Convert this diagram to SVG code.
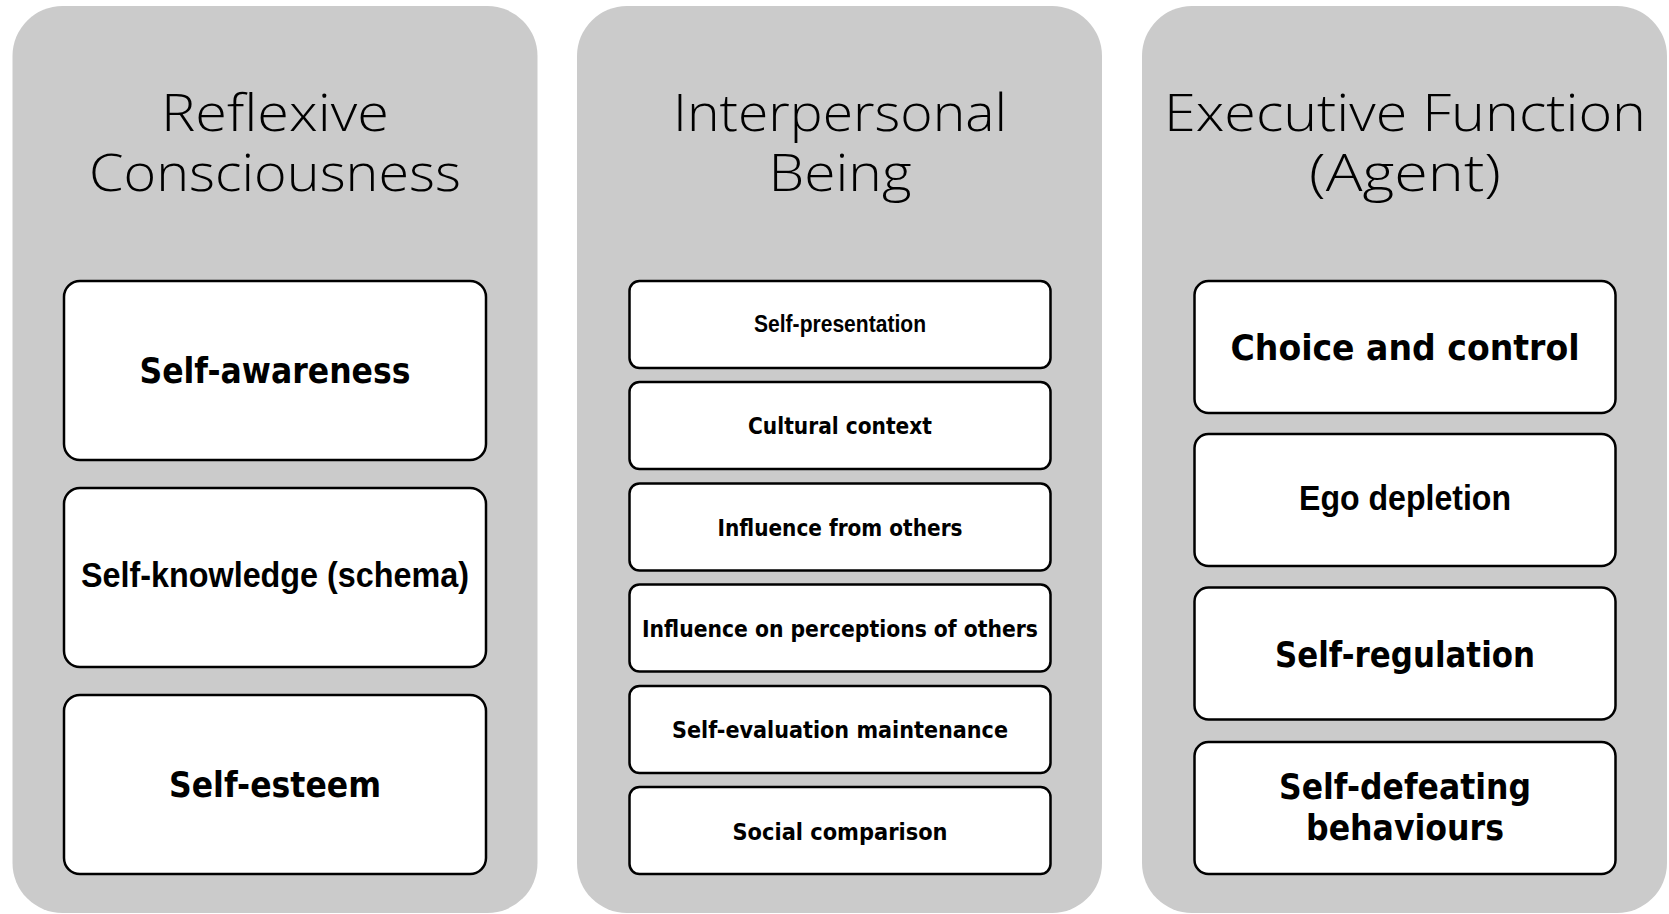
<svg xmlns="http://www.w3.org/2000/svg" width="1669" height="914" viewBox="0 0 1669 914">
  <style>
    .panel { fill: #cbcbcb; }
    .box { fill: #ffffff; stroke: #000000; stroke-width: 2.5; }
    .title { font-family: "Open Sans", "DejaVu Sans", sans-serif; font-weight: 300; font-size: 51px; fill: #000; text-anchor: middle; }
    .geo { font-family: "DejaVu Sans", "Liberation Sans", sans-serif; font-weight: bold; fill: #000; text-anchor: middle; }
    .cal { font-family: "Liberation Sans", "Open Sans", sans-serif; font-weight: bold; fill: #000; text-anchor: middle; }
    .big { font-size: 35px; }
    .small { font-size: 23px; }
  </style>

  <!-- Column 1: Reflexive Consciousness -->
  <g id="reflexive-consciousness">
    <rect class="panel" x="12.5" y="6" width="525" height="907" rx="50" ry="50"/>
    <text class="title" x="275" y="131" textLength="228" lengthAdjust="spacingAndGlyphs">Reflexive</text>
    <text class="title" x="275" y="191" textLength="372" lengthAdjust="spacingAndGlyphs">Consciousness</text>
  </g>
  <g id="self-awareness">
    <rect class="box" x="64" y="281" width="422" height="179" rx="16" ry="16"/>
    <text class="geo big" x="275" y="383" textLength="271" lengthAdjust="spacingAndGlyphs">Self-awareness</text>
  </g>
  <g id="self-knowledge">
    <rect class="box" x="64" y="488" width="422" height="179" rx="16" ry="16"/>
    <text class="cal big" x="275" y="587" textLength="388" lengthAdjust="spacingAndGlyphs">Self-knowledge (schema)</text>
  </g>
  <g id="self-esteem">
    <rect class="box" x="64" y="695" width="422" height="179" rx="16" ry="16"/>
    <text class="geo big" x="275" y="797" textLength="212" lengthAdjust="spacingAndGlyphs">Self-esteem</text>
  </g>

  <!-- Column 2: Interpersonal Being -->
  <g id="interpersonal-being">
    <rect class="panel" x="577" y="6" width="525" height="907" rx="50" ry="50"/>
    <text class="title" x="840" y="131" textLength="334" lengthAdjust="spacingAndGlyphs">Interpersonal</text>
    <text class="title" x="840" y="191" textLength="143" lengthAdjust="spacingAndGlyphs">Being</text>
  </g>
  <g id="self-presentation">
    <rect class="box" x="629.5" y="281" width="421" height="87" rx="10" ry="10"/>
    <text class="cal small" x="840" y="332" textLength="172" lengthAdjust="spacingAndGlyphs">Self-presentation</text>
  </g>
  <g id="cultural-context">
    <rect class="box" x="629.5" y="382" width="421" height="87" rx="10" ry="10"/>
    <text class="geo small" x="840" y="434" textLength="184" lengthAdjust="spacingAndGlyphs">Cultural context</text>
  </g>
  <g id="influence-from-others">
    <rect class="box" x="629.5" y="483.5" width="421" height="87" rx="10" ry="10"/>
    <text class="geo small" x="840" y="535.5" textLength="245" lengthAdjust="spacingAndGlyphs">Influence from others</text>
  </g>
  <g id="influence-on-perceptions">
    <rect class="box" x="629.5" y="584.5" width="421" height="87" rx="10" ry="10"/>
    <text class="geo small" x="840" y="636.5" textLength="396" lengthAdjust="spacingAndGlyphs">Influence on perceptions of others</text>
  </g>
  <g id="self-evaluation-maintenance">
    <rect class="box" x="629.5" y="686" width="421" height="87" rx="10" ry="10"/>
    <text class="geo small" x="840" y="737.5" textLength="336" lengthAdjust="spacingAndGlyphs">Self-evaluation maintenance</text>
  </g>
  <g id="social-comparison">
    <rect class="box" x="629.5" y="787" width="421" height="87" rx="10" ry="10"/>
    <text class="geo small" x="840" y="839.5" textLength="215" lengthAdjust="spacingAndGlyphs">Social comparison</text>
  </g>

  <!-- Column 3: Executive Function (Agent) -->
  <g id="executive-function">
    <rect class="panel" x="1142" y="6" width="525" height="907" rx="50" ry="50"/>
    <text class="title" x="1405" y="131" textLength="482" lengthAdjust="spacingAndGlyphs">Executive Function</text>
    <text class="title" x="1405" y="191" textLength="192" lengthAdjust="spacingAndGlyphs">(Agent)</text>
  </g>
  <g id="choice-and-control">
    <rect class="box" x="1194.5" y="281" width="421" height="132" rx="14" ry="14"/>
    <text class="geo big" x="1405" y="360" textLength="349" lengthAdjust="spacingAndGlyphs">Choice and control</text>
  </g>
  <g id="ego-depletion">
    <rect class="box" x="1194.5" y="434" width="421" height="132" rx="14" ry="14"/>
    <text class="cal big" x="1405" y="510" textLength="212" lengthAdjust="spacingAndGlyphs">Ego depletion</text>
  </g>
  <g id="self-regulation">
    <rect class="box" x="1194.5" y="587.5" width="421" height="132" rx="14" ry="14"/>
    <text class="geo big" x="1405" y="666.5" textLength="260" lengthAdjust="spacingAndGlyphs">Self-regulation</text>
  </g>
  <g id="self-defeating-behaviours">
    <rect class="box" x="1194.5" y="742" width="421" height="132" rx="14" ry="14"/>
    <text class="geo big" x="1405" y="799" textLength="252" lengthAdjust="spacingAndGlyphs">Self-defeating</text>
    <text class="geo big" x="1405" y="840" textLength="198" lengthAdjust="spacingAndGlyphs">behaviours</text>
  </g>

  <!-- no connectors between the columns -->
  <g id="connectors"/>
</svg>
